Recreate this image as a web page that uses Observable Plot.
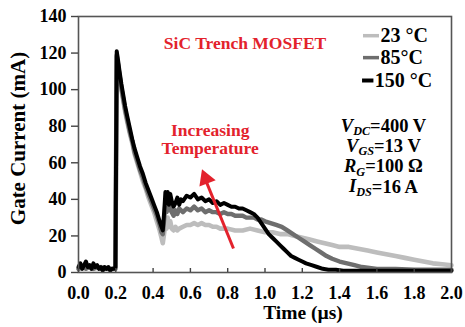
<!DOCTYPE html>
<html><head><meta charset="utf-8">
<script src="https://cdn.jsdelivr.net/npm/d3@7"></script>
<script src="https://cdn.jsdelivr.net/npm/@observablehq/plot@0.6"></script>
<style>body{margin:0;background:#fff;}</style>
</head><body><div id="chart"></div>
<script>
// ---- data: [time (µs), gate current (mA)] ----
const series23 = [[0,2],[0.04,3],[0.08,2],[0.12,3],[0.16,2],[0.198,2],[0.205,118],[0.212,113],[0.22,107],[0.23,100],[0.24,94],[0.25,88],[0.26,83],[0.275,76],[0.29,70],[0.3,65],[0.315,60],[0.33,55],[0.345,50],[0.36,46],[0.375,41],[0.39,37],[0.405,33],[0.42,28],[0.435,23],[0.445,19],[0.452,16],[0.46,22],[0.466,29],[0.472,24],[0.478,30],[0.485,25],[0.492,28],[0.5,24],[0.51,23],[0.52,25],[0.53,23],[0.54,24],[0.56,25],[0.58,26],[0.6,26],[0.62,27],[0.64,26],[0.66,27],[0.68,26],[0.7,26],[0.72,25],[0.74,25],[0.76,24],[0.78,24],[0.8,24],[0.84,23],[0.88,23],[0.92,24],[0.96,23],[1.0,22],[1.04,22],[1.08,21],[1.12,21],[1.16,20],[1.2,19],[1.24,18],[1.28,17],[1.32,16],[1.36,15],[1.4,14],[1.45,14],[1.5,13],[1.55,12],[1.6,11],[1.65,10],[1.7,9],[1.75,8],[1.8,7],[1.85,6],[1.9,5],[1.95,4.5],[2.0,4]];
const series85 = [[0,2],[0.02,3],[0.04,2],[0.06,3],[0.08,2],[0.1,3],[0.12,2],[0.14,2],[0.16,2],[0.18,2],[0.198,2],[0.205,119],[0.212,114],[0.22,108],[0.23,101],[0.24,95],[0.25,89],[0.26,84],[0.275,77],[0.29,71],[0.3,66],[0.315,61],[0.33,56],[0.345,52],[0.36,47],[0.375,43],[0.39,39],[0.405,35],[0.42,31],[0.435,26],[0.445,22],[0.452,21],[0.46,30],[0.466,38],[0.472,33],[0.478,41],[0.485,34],[0.492,38],[0.5,33],[0.51,31],[0.52,34],[0.53,32],[0.54,35],[0.56,33],[0.58,35],[0.6,34],[0.62,36],[0.64,34],[0.66,35],[0.68,33],[0.7,34],[0.72,33],[0.74,33],[0.76,32],[0.78,33],[0.8,32],[0.82,32],[0.84,31],[0.86,31],[0.88,31],[0.9,30],[0.92,30],[0.94,30],[0.96,29],[0.98,29],[1.0,28],[1.03,27],[1.06,26],[1.09,25],[1.12,23],[1.15,21],[1.18,19],[1.21,17],[1.24,15],[1.27,13],[1.3,11],[1.33,9],[1.36,7.5],[1.4,6],[1.44,5],[1.48,4],[1.52,3],[1.56,2.5],[1.6,2],[1.7,2],[1.8,1.5],[1.9,1.5],[2.0,1.5]];
const series150 = [[0,3],[0.01,5],[0.02,2],[0.03,4],[0.04,6],[0.05,3],[0.06,4],[0.07,2],[0.08,5],[0.09,3],[0.1,4],[0.11,2],[0.12,3],[0.13,1],[0.14,3],[0.15,2],[0.16,3],[0.17,1],[0.18,2],[0.19,2],[0.198,3],[0.205,121],[0.212,116],[0.22,110],[0.23,103],[0.24,97],[0.25,91],[0.26,86],[0.275,79],[0.29,72],[0.3,68],[0.315,63],[0.33,58],[0.345,54],[0.36,49],[0.375,45],[0.39,41],[0.405,37],[0.42,33],[0.435,28],[0.445,25],[0.452,23],[0.46,34],[0.466,44],[0.472,38],[0.478,44],[0.485,37],[0.492,43],[0.5,39],[0.51,36],[0.52,38],[0.53,41],[0.54,37],[0.55,40],[0.56,39],[0.58,42],[0.6,41],[0.62,43],[0.64,40],[0.66,41],[0.68,39],[0.7,40],[0.72,38],[0.74,39],[0.76,37],[0.78,38],[0.8,37],[0.82,36],[0.84,36],[0.86,35],[0.88,35],[0.9,34],[0.92,33],[0.94,32],[0.96,30],[0.98,27],[1.0,24],[1.02,21],[1.04,19],[1.06,17],[1.08,15],[1.1,13],[1.12,11],[1.14,9],[1.16,8],[1.18,7],[1.2,6],[1.22,5],[1.25,4],[1.28,3],[1.31,2],[1.34,1.5],[1.38,1.5],[1.42,1],[1.5,1],[1.6,1],[1.7,1],[1.8,1],[1.9,1],[2.0,1]];

const xTicks = [0, 0.2, 0.4, 0.6, 0.8, 1.0, 1.2, 1.4, 1.6, 1.8, 2.0];
const yTicks = [0, 20, 40, 60, 80, 100, 120, 140];
const legendLabels = ["23 °C", "85°C", "150 °C"];
const paramSymbols = ["V", "V", "R", "I"];
const paramSubs = ["DC", "GS", "G", "DS"];
const paramValues = ["=400 V", "=13 V", "=100 Ω", "=16 A"];
const titleText = "SiC Trench MOSFET";
const arrowText = "Increasing\nTemperature";

const colors = ["#bdbdbd", "#6e6e6e", "#000000"];
const red = "#e3222c";
const font = "'Liberation Serif', 'Times New Roman', serif";

const legendY = [129.5, 117.5, 105];
const legendX1 = [1.528, 1.528, 1.523];
const legendX2 = [1.614, 1.614, 1.584];
const legendTX = [1.619, 1.619, 1.589];
const paramY = [80, 69, 58, 47];

const chart = Plot.plot({
  width: 465, height: 327,
  marginLeft: 78, marginRight: 14, marginTop: 16, marginBottom: 55,
  style: {fontFamily: font, fontWeight: "bold", background: "#fff", color: "#000", overflow: "visible"},
  x: {domain: [0, 2]},
  y: {domain: [0, 140]},
  marks: [
    Plot.line(series23, {x: d => d[0], y: d => d[1], stroke: colors[0], strokeWidth: 4.6}),
    Plot.line(series85, {x: d => d[0], y: d => d[1], stroke: colors[1], strokeWidth: 4.4}),
    Plot.line(series150, {x: d => d[0], y: d => d[1], stroke: colors[2], strokeWidth: 4}),
    Plot.frame({stroke: "#555", strokeWidth: 1.6}),
    Plot.axisY(yTicks, {tickSize: 7, tickPadding: 5, fontSize: 18, tickFormat: d => d, label: null, stroke: "#444", strokeWidth: 1.4}),
    Plot.axisX(xTicks, {tickSize: 0, tickPadding: 14, fontSize: 18, tickFormat: d => d.toFixed(1), label: null}),
    Plot.ruleX(xTicks, {x: d => d, y1: 0, y2: 0, insetTop: -4, stroke: "#444", strokeWidth: 1.4}),
    Plot.text(["Gate Current (mA)"], {frameAnchor: "left", textAnchor: "middle", dx: -60, dy: -6, rotate: -90, fontSize: 21, text: d => d}),
    Plot.text(["Time (µs)"], {frameAnchor: "bottom", textAnchor: "middle", dx: 38, dy: 46.5, fontSize: 19.5, text: d => d}),
    Plot.text([titleText], {x: 0.893, y: 125.1, text: d => d, fill: red, fontSize: 17.5}),
    Plot.text([arrowText], {x: 0.706, y: 73, text: d => d, fill: red, fontSize: 17.5, lineHeight: 1.05}),
    Plot.link([0], {x1: 0.831, y1: 13.1, x2: 0.684, y2: 50, stroke: red, strokeWidth: 3}),
    Plot.dot([0], {x: 0.682, y: 51.3, symbol: "triangle", r: 6.5, fill: red, stroke: "none", rotate: -21.5}),
    ...legendLabels.map((lab, i) => Plot.ruleY([lab], {y: legendY[i], x1: legendX1[i], x2: legendX2[i], stroke: colors[i], strokeWidth: i === 2 ? 4 : 3.5})),
    ...legendLabels.map((lab, i) => Plot.text([lab], {x: legendTX[i], y: legendY[i], text: d => d, textAnchor: "start", fontSize: 20})),
    Plot.text(paramSymbols, {x: 1.635, y: (d, i) => paramY[i], text: (d, i) => d + paramSubs[i] + paramValues[i], fontSize: 18.5, ariaLabel: () => "params"})
  ]
});

// rich-text (italic symbols with subscripts) for the parameter labels
const paramNodes = [];
d3.select(chart).selectAll('[aria-label="params"]').each(function() {
  if (this.tagName === "text") paramNodes.push(this);
  else d3.select(this).selectAll("text").each(function() { paramNodes.push(this); });
});
paramNodes.forEach((node, i) => {
  const t = d3.select(node);
  t.text(null);
  t.append("tspan").attr("font-style", "italic").text(paramSymbols[i]);
  t.append("tspan").attr("font-style", "italic").attr("font-size", "0.66em").attr("dy", "0.26em").text(paramSubs[i]);
  t.append("tspan").attr("dy", "-0.17em").text(paramValues[i]);
});

document.getElementById("chart").appendChild(chart);
</script>
</body></html>
